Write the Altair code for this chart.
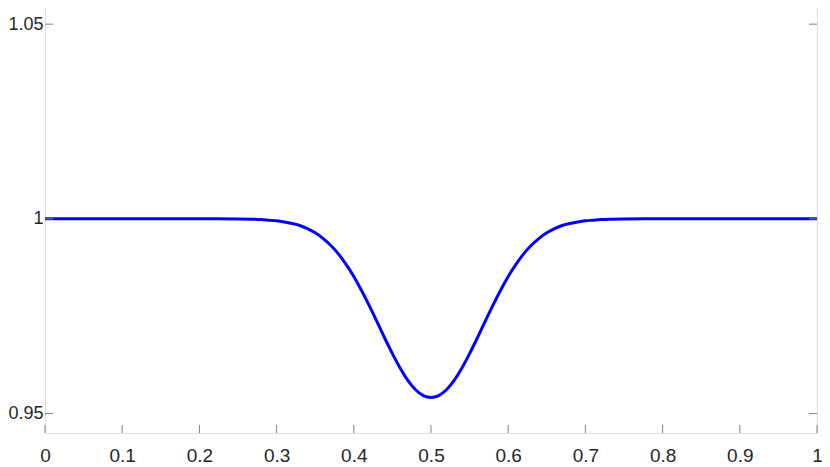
import altair as alt
import pandas as pd

# Curve values
x_vals = [0.0, 0.05, 0.1, 0.15, 0.2, 0.25, 0.27, 0.28, 0.29,
          0.30, 0.31, 0.32, 0.33, 0.34, 0.35, 0.36, 0.37, 0.38, 0.39,
          0.40, 0.41, 0.42, 0.43, 0.44, 0.45, 0.46, 0.47, 0.48, 0.49,
          0.50, 0.51, 0.52, 0.53, 0.54, 0.55, 0.56, 0.57, 0.58, 0.59,
          0.60, 0.61, 0.62, 0.63, 0.64, 0.65, 0.66, 0.67, 0.68, 0.69,
          0.70, 0.71, 0.72, 0.73, 0.75, 0.8, 0.85, 0.9, 0.95, 1.0]
y_vals = [1.0, 1.0, 1.0, 1.0, 1.0, 0.99996, 0.9999, 0.9998, 0.99965,
          0.9995, 0.9992, 0.9988, 0.9983, 0.9975, 0.9964, 0.9950, 0.9932, 0.9910, 0.9883,
          0.9852, 0.9816, 0.9777, 0.9736, 0.9694, 0.9654, 0.9617, 0.9585, 0.9561, 0.9546,
          0.9541, 0.9546, 0.9561, 0.9585, 0.9617, 0.9654, 0.9694, 0.9736, 0.9777, 0.9816,
          0.9852, 0.9883, 0.9910, 0.9932, 0.9950, 0.9964, 0.9975, 0.9983, 0.9988, 0.9992,
          0.9995, 0.99965, 0.9998, 0.9999, 0.99996, 1.0, 1.0, 1.0, 1.0, 1.0]

x_ticks = [0, 0.1, 0.2, 0.3, 0.4, 0.5, 0.6, 0.7, 0.8, 0.9, 1.0]
y_ticks = [0.95, 1.0, 1.05]

x_domain = [0, 1]
y_domain = [0.945, 1.0562]

W, H = 772, 433
TICK = 8
AXIS_COLOR = "#808080"
TEXT_COLOR = "#262626"
FONT = "Liberation Sans"

df = pd.DataFrame({"x": x_vals, "y": y_vals})
xt = pd.DataFrame({"v": x_ticks})
yt = pd.DataFrame({"v": y_ticks})

xscale = alt.Scale(domain=x_domain, nice=False, zero=False)
yscale = alt.Scale(domain=y_domain, nice=False, zero=False)

line = alt.Chart(df).mark_line(color="#0000FF", strokeWidth=3, interpolate="monotone").encode(
    x=alt.X("x:Q", scale=xscale,
            axis=alt.Axis(values=x_ticks, format="~g", title=None, ticks=False, grid=False,
                          domain=False, labelFontSize=19, labelFont=FONT, labelColor=TEXT_COLOR,
                          labelPadding=13, labelFlush=False)),
    y=alt.Y("y:Q", scale=yscale,
            axis=alt.Axis(values=y_ticks, format="~g", title=None, ticks=False, grid=False,
                          domain=False, labelFontSize=18, labelFont=FONT, labelColor=TEXT_COLOR,
                          labelPadding=2)),
)

ytick_left = alt.Chart(yt).mark_rule(color=AXIS_COLOR, strokeWidth=1).encode(
    y=alt.Y("v:Q", scale=yscale), x=alt.value(0), x2=alt.value(TICK))
ytick_right = alt.Chart(yt).mark_rule(color=AXIS_COLOR, strokeWidth=1).encode(
    y=alt.Y("v:Q", scale=yscale), x=alt.value(W - TICK), x2=alt.value(W))
xtick_bottom = alt.Chart(xt).mark_rule(color=AXIS_COLOR, strokeWidth=1).encode(
    x=alt.X("v:Q", scale=xscale), y=alt.value(H - TICK), y2=alt.value(H))
xtick_top = alt.Chart(xt).mark_rule(color=AXIS_COLOR, strokeWidth=1).encode(
    x=alt.X("v:Q", scale=xscale), y=alt.value(0), y2=alt.value(TICK))

chart = alt.layer(line, ytick_left, ytick_right, xtick_bottom, xtick_top).properties(
    width=W, height=H,
    autosize=alt.AutoSizeParams(type="none"),
    padding={"left": 37, "top": -8, "right": 5, "bottom": 34},
).configure_view(stroke=AXIS_COLOR, strokeWidth=1.2).configure(background="white")

chart.save("out.html", embed_options={"renderer": "svg", "actions": False})
